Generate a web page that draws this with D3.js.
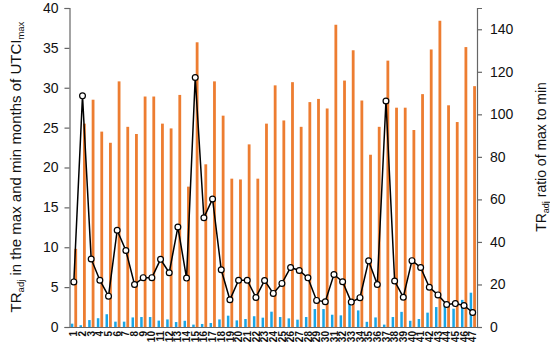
<!DOCTYPE html>
<html>
<head>
<meta charset="utf-8">
<script src="https://cdn.jsdelivr.net/npm/d3@7"></script>
<style>
  html, body { margin: 0; padding: 0; background: #fff; }
  svg { display: block; font-family: "Liberation Sans", Arial, sans-serif; }
</style>
</head>
<body>
<div id="chart"></div>
<script>
// ---- data ----
const categories = ["1","2","3","4","5","6","7","8","9","10","11","12","13","14","15","16","17","18","19","20","21","22","23","24","25","26","27","28","29","30","31","32","33","34","35","36","37","38","39","40","41","42","43","44","45","46","47"];
const minMonths = [0.42,0.22,0.87,1.1,1.6,0.67,0.67,1.2,1.25,1.25,
                   0.8,0.95,0.62,0.78,0.3,0.38,0.5,0.95,1.42,0.83,
                   1.0,1.35,1.17,1.92,1.25,1.08,0.92,1.25,2.25,2.25,
                   1.54,1.46,3.0,2.08,0.65,1.2,0.3,1.25,1.9,0.78,
                   1.0,1.8,2.5,2.6,2.3,3.4,4.3];
const maxMonths = [9.8,25.5,28.5,24.5,23.1,30.8,25.1,24.2,28.9,28.9,
                   25.5,24.9,29.1,17.6,35.7,20.4,30.8,26.5,18.6,18.5,
                   22.9,18.6,25.5,30.3,25.9,30.7,25.1,28.2,28.6,27.4,
                   37.9,30.9,34.7,28.4,21.6,25.1,33.4,27.5,27.5,24.7,
                   29.2,34.8,38.4,27.8,25.7,35.1,30.2];
const ratio = [21.2,108.7,32.0,22.0,14.5,45.5,36.0,20.0,23.2,23.2,
               31.8,25.5,47.0,23.0,117.3,51.4,60.2,26.9,12.8,22.0,
               22.0,13.9,21.9,15.8,20.5,28.0,26.6,23.1,12.5,11.9,
               24.7,21.3,11.7,13.8,31.1,20.0,106.3,21.6,14.0,31.2,
               28.0,18.7,15.1,10.6,11.0,10.1,6.8];
const leftTicks = [0,5,10,15,20,25,30,35,40];
const rightTicks = [0,20,40,60,80,100,120,140];

// ---- layout ----
const W = 550, H = 345;
const x0 = 69.5, x1 = 477, yTop = 8, yBot = 327;
const axisColor = "#666";
const orange = "#ED7D31", blue = "#1AA6E6";

const svg = d3.select("#chart").append("svg").attr("width", W).attr("height", H);

const x = d3.scaleBand().domain(categories).range([x0, x1]).padding(0);
const yL = d3.scaleLinear().domain([0, 40]).range([yBot, yTop]);
const yR = d3.scaleLinear().domain([0, 150]).range([yBot, yTop]);

const bw = x.bandwidth();
const cx = c => x(c) + bw / 2;

// bars
svg.append("g").selectAll("rect").data(categories).join("rect")
  .attr("x", c => cx(c) + 0.5)
  .attr("width", 2.8)
  .attr("y", (c, i) => yL(maxMonths[i]))
  .attr("height", (c, i) => yBot - yL(maxMonths[i]))
  .attr("fill", orange);

svg.append("g").selectAll("rect").data(categories).join("rect")
  .attr("x", c => cx(c) - 3.0)
  .attr("width", 2.5)
  .attr("y", (c, i) => yL(minMonths[i]))
  .attr("height", (c, i) => yBot - yL(minMonths[i]))
  .attr("fill", blue);

// axes
const gL = svg.append("g").attr("transform", `translate(${x0},0)`)
  .call(d3.axisLeft(yL).tickValues(leftTicks).tickSize(5).tickPadding(6));
const gR = svg.append("g").attr("transform", `translate(${x1},0)`)
  .call(d3.axisRight(yR).tickValues(rightTicks).tickSize(5).tickPadding(8));
const gB = svg.append("g").attr("transform", `translate(0,${yBot})`)
  .call(d3.axisBottom(x).tickSize(0).tickPadding(0));

[gL, gR].forEach(g => {
  g.select(".domain").attr("stroke", axisColor).attr("stroke-width", 1.2);
  g.selectAll(".tick line").attr("stroke", axisColor).attr("stroke-width", 1.2);
  g.selectAll(".tick text").attr("fill", "#111").style("font-size", "14px")
    .style("font-family", "'Liberation Sans', Arial, sans-serif");
});
gB.select(".domain").attr("stroke", axisColor).attr("stroke-width", 1.2);
gB.selectAll(".tick text")
  .attr("transform", "rotate(-90)")
  .attr("x", -4).attr("y", 0).attr("dy", "0.36em")
  .attr("text-anchor", "end")
  .attr("fill", "#111")
  .style("font-size", "10px").style("font-weight", "bold")
  .style("font-family", "'Liberation Sans', Arial, sans-serif");

// line
const line = d3.line().x((d, i) => cx(categories[i])).y(d => yR(d));
svg.append("path").datum(ratio).attr("d", line)
  .attr("fill", "none").attr("stroke", "#000").attr("stroke-width", 1.5);
svg.append("g").selectAll("circle").data(ratio).join("circle")
  .attr("cx", (d, i) => cx(categories[i]))
  .attr("cy", d => yR(d))
  .attr("r", 2.9)
  .attr("fill", "#fff").attr("stroke", "#000").attr("stroke-width", 1.2);

// titles
const lt = svg.append("text")
  .attr("transform", `translate(21,167) rotate(-90)`)
  .attr("text-anchor", "middle").attr("fill", "#111").style("font-size", "15px");
lt.append("tspan").text("TR");
lt.append("tspan").attr("dy", 3).style("font-size", "9.5px").text("adj");
lt.append("tspan").attr("dy", -3).text(" in the max and min months of UTCI");
lt.append("tspan").attr("dy", 3).style("font-size", "9.5px").text("max");

const rt = svg.append("text")
  .attr("transform", `translate(546,157) rotate(-90)`)
  .attr("text-anchor", "middle").attr("fill", "#111").style("font-size", "14px");
rt.append("tspan").text("TR");
rt.append("tspan").attr("dy", 3).style("font-size", "9px").text("adj");
rt.append("tspan").attr("dy", -3).text(" ratio of max to min");
</script>
</body>
</html>
